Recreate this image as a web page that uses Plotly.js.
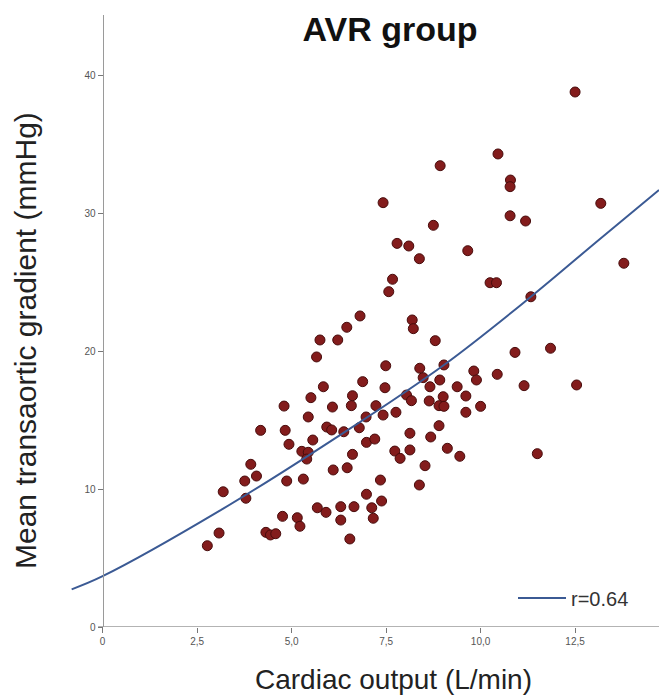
<!DOCTYPE html>
<html>
<head>
<meta charset="utf-8">
<script src="https://cdn.plot.ly/plotly-3.0.1.min.js"></script>
<style>html,body{margin:0;padding:0;background:#fff;}#chart{width:659px;height:700px;}</style>
</head>
<body>
<div id="chart"></div>
<script>
// Cardiac output (L/min) for each patient
const cardiacOutput = [
  12.50, 10.46, 8.93, 10.79, 10.78, 13.18, 10.78, 11.19, 8.75, 9.66, 13.79, 10.25, 10.42, 11.33, 8.80, 10.91, 11.85,
  7.42, 7.79, 8.10, 8.38, 7.67, 7.57, 6.81, 6.46, 5.75, 6.22, 8.19, 8.22,
  5.66, 5.84, 5.51, 4.80, 6.08, 5.44, 4.18, 4.83, 5.93, 6.06, 5.56, 4.93, 5.27, 5.44, 5.40, 3.92, 4.07, 3.76, 4.87, 5.31,
  6.10, 3.19, 3.79, 5.68, 5.91, 6.30, 4.76, 5.15, 5.22, 6.30, 4.32, 4.44, 4.58, 3.08, 2.77,
  7.49, 8.39, 9.82, 9.89, 6.88, 9.03, 8.48, 7.47, 8.66, 8.92, 9.38, 9.61, 6.61, 6.58, 8.04, 8.17, 8.64, 9.01, 8.90, 9.03,
  10.00, 9.61, 7.23, 7.76, 7.42, 6.97, 6.79, 6.38, 8.90, 8.13, 8.68, 6.98, 7.20, 9.12, 9.45, 7.73, 7.87, 8.13, 6.61, 6.47,
  8.53, 7.35, 8.38, 6.98, 7.38, 6.65, 7.12, 7.16, 6.54,
  10.44, 11.15, 12.54, 11.50
];
// Mean transaortic gradient (mmHg) for each patient
const meanGradient = [
  38.77, 34.28, 33.43, 32.39, 31.91, 30.70, 29.80, 29.42, 29.11, 27.27, 26.36, 24.95, 24.95, 23.93, 20.75, 19.90, 20.20,
  30.75, 27.80, 27.61, 26.69, 25.20, 24.30, 22.54, 21.72, 20.80, 20.80, 22.25, 21.62,
  19.57, 17.41, 16.62, 16.01, 15.94, 15.22, 14.25, 14.25, 14.49, 14.28, 13.55, 13.24, 12.73, 12.66, 12.17, 11.79, 10.94, 10.58, 10.58, 10.72,
  11.38, 9.80, 9.33, 8.64, 8.31, 8.72, 8.02, 7.92, 7.30, 7.75, 6.86, 6.67, 6.76, 6.81, 5.89,
  18.93, 18.75, 18.55, 17.90, 17.78, 18.99, 18.07, 17.34, 17.41, 17.90, 17.41, 16.74, 16.76, 16.04, 16.81, 16.40, 16.38, 16.69, 16.04, 15.99,
  15.99, 15.56, 16.04, 15.56, 15.36, 15.22, 14.44, 14.15, 14.59, 14.04, 13.77, 13.38, 13.62, 12.95, 12.37, 12.75, 12.22, 12.83, 12.51, 11.54,
  11.69, 10.65, 10.29, 9.62, 9.13, 8.72, 8.64, 7.88, 6.38,
  18.31, 17.49, 17.54, 12.56
];
// Fitted curve
const fitX = [-0.82, 0, 3.10, 6.28, 9.03, 11.33, 13.07, 14.72];
const fitY = [2.73, 3.68, 8.43, 13.91, 18.99, 23.93, 27.92, 31.67];
const fitLabel = 'r=0.64';

const xTickVals = [0, 2.5, 5, 7.5, 10, 12.5];
const xTickText = ['0', '2,5', '5,0', '7,5', '10,0', '12,5'];
const yTickVals = [0, 10, 20, 30, 40];
const yTickText = ['0', '10', '20', '30', '40'];

const chartTitle = 'AVR group';
const xTitle = 'Cardiac output (L/min)';
const yTitle = 'Mean transaortic gradient (mmHg)';

const W = 659, H = 700;
const mL = 69, mR = 0, mT = 15, mB = 73;
const xRange = [-0.89, 14.72];
const yRange = [0, 44.35];
const plotW = W - mL - mR;
const plotH = H - mT - mB;
const yAxisPos = (0 - xRange[0]) / (xRange[1] - xRange[0]);

const traces = [
  {
    type: 'scatter', mode: 'markers',
    x: cardiacOutput, y: meanGradient,
    marker: {size: 10, color: '#831c1c', line: {color: '#480c0c', width: 1}},
    showlegend: false, hoverinfo: 'x+y'
  },
  {
    type: 'scatter', mode: 'lines',
    x: fitX, y: fitY, name: fitLabel,
    line: {color: '#3b5a94', width: 2, shape: 'spline', smoothing: 1},
    showlegend: true
  }
];

const tickFont = {family: 'Liberation Sans Narrow, Liberation Sans, Arial, sans-serif', size: 10, color: '#555'};

const layout = {
  width: W, height: H,
  margin: {l: mL, r: mR, t: mT, b: mB},
  paper_bgcolor: '#fff', plot_bgcolor: '#fff',
  font: {family: 'Liberation Sans, Arial, sans-serif', color: '#222'},
  title: {
    text: '<b>' + chartTitle + '</b>',
    font: {family: 'Liberation Sans, Arial, sans-serif', size: 34, color: '#111'},
    x: 390 / W, xref: 'container', xanchor: 'center',
    y: 1 - 29 / H, yref: 'container', yanchor: 'middle'
  },
  xaxis: {
    range: xRange, showgrid: false, zeroline: false, showline: false,
    tickmode: 'array', tickvals: xTickVals, ticktext: xTickText,
    ticks: 'outside', ticklen: 5, tickwidth: 1, tickcolor: '#777',
    tickfont: tickFont
  },
  yaxis: {
    range: yRange, showgrid: false, zeroline: false,
    anchor: 'free', position: yAxisPos,
    showline: true, linecolor: '#9a9a9a', linewidth: 1.5,
    tickmode: 'array', tickvals: yTickVals, ticktext: yTickText,
    ticks: 'outside', ticklen: 5, tickwidth: 1, tickcolor: '#777',
    tickfont: tickFont
  },
  shapes: [
    {type: 'line', xref: 'x', yref: 'y', x0: -0.12, x1: xRange[1], y0: 0, y1: 0,
     line: {color: '#9a9a9a', width: 1.5}, layer: 'below'}
  ],
  annotations: [
    {text: xTitle, xref: 'paper', yref: 'paper',
     x: (393 - mL) / plotW, y: (627 - 679) / plotH,
     xanchor: 'center', yanchor: 'middle', showarrow: false,
     font: {family: 'Liberation Sans, Arial, sans-serif', size: 28, color: '#222'}},
    {text: yTitle, xref: 'paper', yref: 'paper', textangle: -90,
     x: (25 - mL) / plotW, y: (627 - 341) / plotH,
     xanchor: 'center', yanchor: 'middle', showarrow: false,
     font: {family: 'Liberation Sans, Arial, sans-serif', size: 30, color: '#222'}}
  ],
  legend: {
    x: (513 - mL) / plotW, y: (627 - 598) / plotH,
    xanchor: 'left', yanchor: 'middle',
    bgcolor: 'rgba(0,0,0,0)', borderwidth: 0,
    itemwidth: 48,
    font: {family: 'Liberation Sans, Arial, sans-serif', size: 20, color: '#333'}
  },
  showlegend: true
};

Plotly.newPlot('chart', traces, layout, {displayModeBar: false, staticPlot: true});
</script>
</body>
</html>
